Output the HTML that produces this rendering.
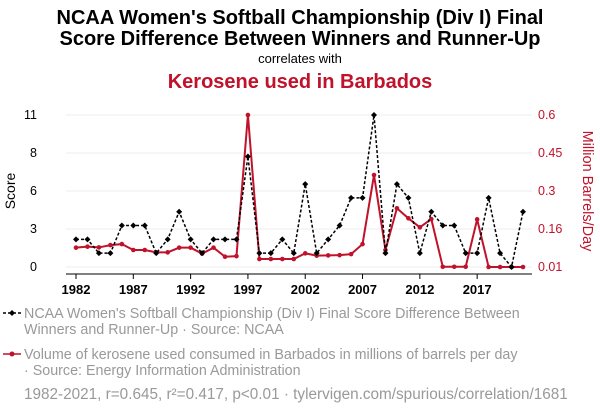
<!DOCTYPE html>
<html><head><meta charset="utf-8"><style>
body{margin:0;background:#fff;}
svg text{font-family:"Liberation Sans",sans-serif;}
</style></head><body>
<svg width="600" height="414" xmlns="http://www.w3.org/2000/svg">
<text x="300" y="24" text-anchor="middle" font-size="20" font-weight="bold">NCAA Women's Softball Championship (Div I) Final</text>
<text x="300" y="45" text-anchor="middle" font-size="20" font-weight="bold">Score Difference Between Winners and Runner-Up</text>
<text x="300" y="63" text-anchor="middle" font-size="13">correlates with</text>
<text x="300" y="88" text-anchor="middle" font-size="20" font-weight="bold" fill="#c0122b">Kerosene used in Barbados</text>
<g id="grid"></g>
<g id="axes"></g>
<g id="series"></g>
<text transform="translate(15,191) rotate(-90)" text-anchor="middle" font-size="14">Score</text>
<text transform="translate(583,191) rotate(90)" text-anchor="middle" font-size="14.5" fill="#c0122b">Million Barrels/Day</text>
<g>
<line x1="3" y1="313" x2="21" y2="313" stroke="#000" stroke-width="1.5" stroke-dasharray="3,2"/>
<path d="M12 310 L15 313 L12 316 L9 313Z" fill="#000"/>
<text x="24" y="318" font-size="14.3" fill="#999">NCAA Women's Softball Championship (Div I) Final Score Difference Between</text>
<text x="24" y="334" font-size="14.3" fill="#999">Winners and Runner-Up · Source: NCAA</text>
</g>
<g>
<line x1="3" y1="354" x2="21" y2="354" stroke="#c0122b" stroke-width="1.5"/>
<circle cx="12" cy="354" r="2.5" fill="#c0122b"/>
<text x="24" y="359" font-size="14.3" fill="#999">Volume of kerosene used consumed in Barbados in millions of barrels per day</text>
<text x="24" y="375" font-size="14.3" fill="#999">· Source: Energy Information Administration</text>
</g>
<text x="24" y="399" font-size="15.3" fill="#999">1982-2021, r=0.645, r²=0.417, p&lt;0.01 · tylervigen.com/spurious/correlation/1681</text>
</svg>
<script>
const years=[];for(let y=1982;y<=2021;y++)years.push(y);
const scores=[2,2,1,1,3,3,3,1,2,4,2,1,2,2,2,8,1,1,2,1,6,1,2,3,5,5,11,1,6,5,1,4,3,3,1,1,5,1,0,4];
const kerosene=[0.085,0.089,0.086,0.095,0.099,0.076,0.076,0.067,0.067,0.085,0.085,0.062,0.085,0.05,0.052,0.6,0.041,0.041,0.041,0.041,0.063,0.054,0.055,0.056,0.06,0.099,0.367,0.076,0.238,0.199,0.164,0.196,0.011,0.011,0.011,0.195,0.01,0.01,0.01,0.01];
const leftTicks=[0,3,6,8,11];const leftTickVals=[0,2.75,5.5,8.25,11];
const rightTicks=["0.01","0.16","0.3","0.45","0.6"];const rightTickVals=[0.01,0.1575,0.305,0.4525,0.6];
const xTicks=[1982,1987,1992,1997,2002,2007,2012,2017];
const NS="http://www.w3.org/2000/svg";
const X0=76,X1=523,YT=115,YB=267;
const xs=y=>X0+(y-1982)/(2021-1982)*(X1-X0);
const yl=v=>YB-v/11*(YB-YT);
const yr=v=>YB-(v-0.01)/(0.6-0.01)*(YB-YT);
function mk(tag,attrs,parent){const e=document.createElementNS(NS,tag);for(const k in attrs)e.setAttribute(k,attrs[k]);document.getElementById(parent).appendChild(e);return e;}
leftTickVals.forEach((v,i)=>{
 const g=mk('line',{x1:66,x2:532,y1:yl(v),y2:yl(v),stroke:'#eee','stroke-width':1},'grid');
 
 
 const t=mk('text',{x:37,y:yl(v)+4,'text-anchor':'end','font-size':12.5},'axes');t.textContent=leftTicks[i];
 
 
});
rightTickVals.forEach((v,i)=>{
 const t=mk('text',{x:538,y:yr(v)+4,'font-size':12.5,fill:'#c0122b'},'axes');t.textContent=rightTicks[i];
 
 
});
xTicks.forEach(y=>{
 const l=mk('line',{x1:xs(y),x2:xs(y),y1:274,y2:279,stroke:'#000'},'axes');
 
 
 const t=mk('text',{x:xs(y),y:294,'text-anchor':'middle','font-size':13,'font-weight':'bold'},'axes');t.textContent=y;
 
 
});
const al=mk('line',{x1:66,x2:532,y1:274,y2:274,stroke:'#000'},'axes');


const rp=mk('polyline',{points:years.map((y,i)=>xs(y)+','+yr(kerosene[i])).join(' '),fill:'none',stroke:'#c0122b','stroke-width':2},'series');


years.forEach((y,i)=>{const c=mk('circle',{cx:xs(y),cy:yr(kerosene[i]),r:2.3,fill:'#c0122b'},'series');
 
 });
const bp=mk('polyline',{points:years.map((y,i)=>xs(y)+','+yl(scores[i])).join(' '),fill:'none',stroke:'#000','stroke-width':1.5,'stroke-dasharray':'3,2'},'series');


years.forEach((y,i)=>{const x=xs(y),v=yl(scores[i]);const p=mk('path',{d:`M${x} ${v-3}L${x+3} ${v}L${x} ${v+3}L${x-3} ${v}Z`,fill:'#000'},'series');
 
 });
</script>
</body></html>
